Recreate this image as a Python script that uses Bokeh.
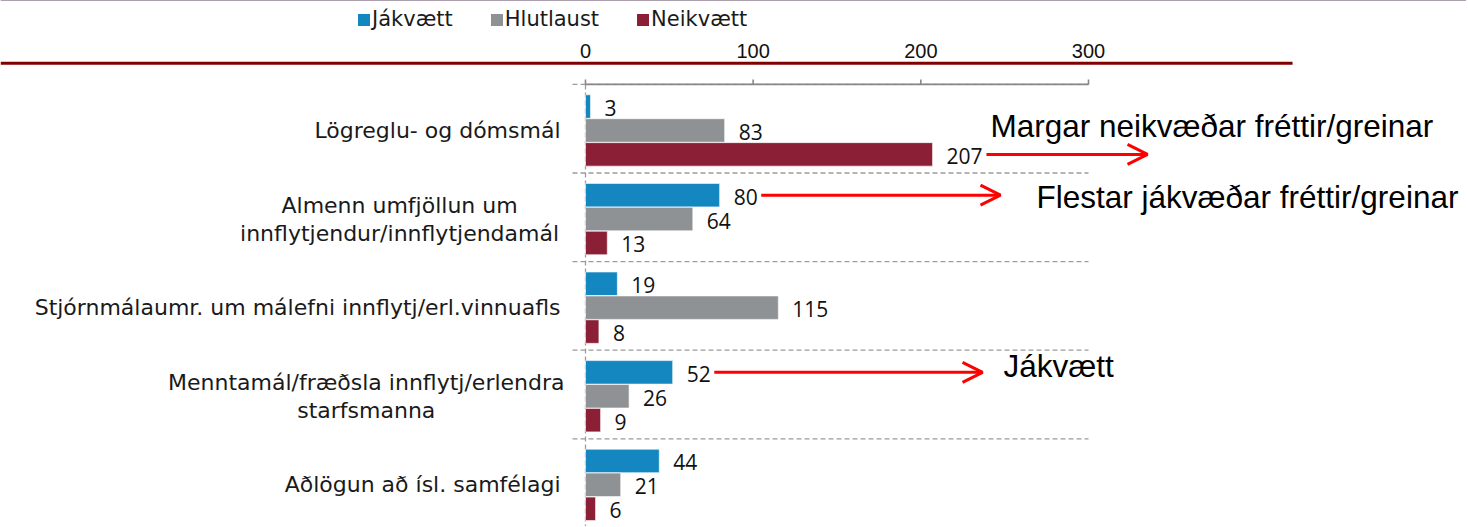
from bokeh.plotting import figure
from bokeh.layouts import column
from bokeh.models import (Range1d, FixedTicker, Legend, LegendItem, Arrow, OpenHead,
                          ColumnDataSource)
from bokeh.core.properties import value
from bokeh.embed import file_html
from bokeh.resources import INLINE

# ---- data ----
categories = [
    "Lögreglu- og dómsmál",
    "Almenn umfjöllun um\ninnflytjendur/innflytjendamál",
    "Stjórnmálaumr. um málefni innflytj/erl.vinnuafls",
    "Menntamál/fræðsla innflytj/erlendra\nstarfsmanna",
    "Aðlögun að ísl. samfélagi",
]
series_names = ["Jákvætt", "Hlutlaust", "Neikvætt"]
jakvaett = [3, 80, 19, 52, 44]
hlutlaust = [83, 64, 115, 26, 21]
neikvaett = [207, 13, 8, 9, 6]
x_ticks = [0, 100, 200, 300]

# callouts: (category index, series index, text)
callout_cat = [0, 1, 3]
callout_series = [2, 0, 0]
callout_text = ["Margar neikvæðar fréttir/greinar", "Flestar jákvæðar fréttir/greinar", "Jákvætt"]
callout_arrow_end = [335.2, 247.5, 236.8]
callout_text_x = [241.5, 269.0, 249.3]
callout_text_dy = [-0.32, 0.02, -0.07]

# ---- styles ----
W = 1466
colors = ["#1487C1", "#8F9295", "#8A1F35"]
offsets = [-0.27, 0.0, 0.27]
bar_h = 0.265
PX = 503.0 / 300.0  # pixels per unit
X0 = -585.0 / PX
X1 = (W - 585.0) / PX
Y_TOP = -0.801
Y_BOTTOM = 4.47
LEG_H = 34
LABEL_RIGHT = -14.9
CHAR_W = 11.1  # approx. px per character of the category font

# ---- legend strip ----
pl = figure(width=W, height=LEG_H, output_backend="svg", toolbar_location=None,
            x_range=Range1d(0, 1), y_range=Range1d(0, 1),
            x_axis_location=None, y_axis_location=None,
            min_border_left=0, min_border_right=0, min_border_top=0, min_border_bottom=0)
pl.outline_line_color = None
pl.xgrid.visible = False
pl.ygrid.visible = False
leg_renderers = [pl.hbar(y=[5], left=[0], right=[1], height=1, fill_color=colors[s], line_color=None)
                 for s in range(3)]
legend = Legend(items=[LegendItem(label=series_names[s], renderers=[leg_renderers[s]]) for s in range(3)],
                orientation="horizontal", location=(356, 3),
                glyph_width=15, glyph_height=15, label_standoff=1, spacing=36,
                padding=0, margin=0, border_line_color=None, background_fill_alpha=0,
                label_text_font="DejaVu Sans", label_text_font_size="21px",
                label_text_color="#1a1a1a")
pl.add_layout(legend)

# ---- main chart ----
p = figure(width=W, height=526 - LEG_H, output_backend="svg", toolbar_location=None,
           x_range=Range1d(X0, X1), y_range=Range1d(Y_BOTTOM, Y_TOP),
           x_axis_location="above", y_axis_location=None,
           min_border_left=0, min_border_right=0, min_border_top=25, min_border_bottom=0)
p.outline_line_color = None
p.xgrid.visible = False
p.ygrid.visible = False

xa = p.xaxis[0]
xa.ticker = FixedTicker(ticks=x_ticks)
xa.axis_line_color = None
xa.major_tick_line_color = None
xa.minor_tick_line_color = None
xa.major_tick_out = 0
xa.major_tick_in = 0
xa.major_label_standoff = 2
xa.major_label_text_font = "Liberation Sans"
xa.major_label_text_font_size = "20px"
xa.major_label_text_color = "#111111"

n = len(categories)
cat_pos = list(range(n))
boundaries = [i - 0.52 for i in cat_pos]

# category labels: single-line ones right aligned, wrapped ones centred line by line
single = [i for i in cat_pos if "\n" not in categories[i]]
multi = [i for i in cat_pos if "\n" in categories[i]]
lab_style = dict(text_baseline="middle", text_font=value("DejaVu Sans"), text_font_size="22px",
                 text_color="#1a1a1a", text_line_height=1.12)
p.text(x=[LABEL_RIGHT] * len(single), y=single, text=[categories[i] for i in single],
       text_align="right", **lab_style)
multi_x = [LABEL_RIGHT - max(len(t) for t in categories[i].split("\n")) * CHAR_W / 2 / PX for i in multi]
p.text(x=multi_x, y=multi, text=[categories[i] for i in multi], text_align="center", **lab_style)

# dashed separators / category ticks
p.segment(x0=[-7.75] * n, x1=[300] * n, y0=boundaries, y1=boundaries,
          line_color="#9C9C9C", line_width=1.3, line_dash="5 3")
# dashed vertical axis at 0
p.segment(x0=[0], x1=[0], y0=[boundaries[0]], y1=[Y_BOTTOM],
          line_color="#9C9C9C", line_width=1.3, line_dash="5 3")
# solid top axis line and ticks
p.segment(x0=[x_ticks[0]], x1=[x_ticks[-1]], y0=[boundaries[0]], y1=[boundaries[0]],
          line_color="#878787", line_width=1.6)
p.segment(x0=x_ticks, x1=x_ticks, y0=[boundaries[0]] * len(x_ticks),
          y1=[boundaries[0] - 5 / 88.6] * len(x_ticks), line_color="#878787", line_width=1.6)

# dark red rule under the tick labels
p.segment(x0=[X0], x1=[421.7], y0=[-0.76], y1=[-0.76], line_color="#800000", line_width=3)

all_vals = [jakvaett, hlutlaust, neikvaett]
for s, vals in enumerate(all_vals):
    ys = [i + offsets[s] for i in cat_pos]
    src = ColumnDataSource(dict(y=ys, v=vals, t=[str(v) for v in vals]))
    p.hbar(y="y", left=0, right="v", height=bar_h, source=src,
           fill_color=colors[s], line_color="white", line_width=0.6)
    p.text(x="v", y="y", text="t", source=src, x_offset=14, y_offset=1.5,
           text_baseline="middle", text_align="left",
           text_font=value("Open Sans"), text_font_size="21px", text_color="#111111")

# callouts
for k in range(len(callout_text)):
    c, s = callout_cat[k], callout_series[k]
    v = all_vals[s][c]
    y = c + offsets[s]
    x_start = v + (17 + 12.3 * len(str(v))) / PX
    p.add_layout(Arrow(end=OpenHead(size=20, line_color="#FF0000", line_width=3),
                       x_start=x_start, y_start=y, x_end=callout_arrow_end[k], y_end=y,
                       line_color="#FF0000", line_width=3))
    p.text(x=[callout_text_x[k]], y=[y + callout_text_dy[k]], text=[callout_text[k]],
           text_baseline="middle", text_align="left",
           text_font=value("Liberation Sans"), text_font_size="31.5px", text_color="#000000")

layout = column(pl, p, spacing=0)
open("out.html", "w").write(file_html(layout, INLINE))
